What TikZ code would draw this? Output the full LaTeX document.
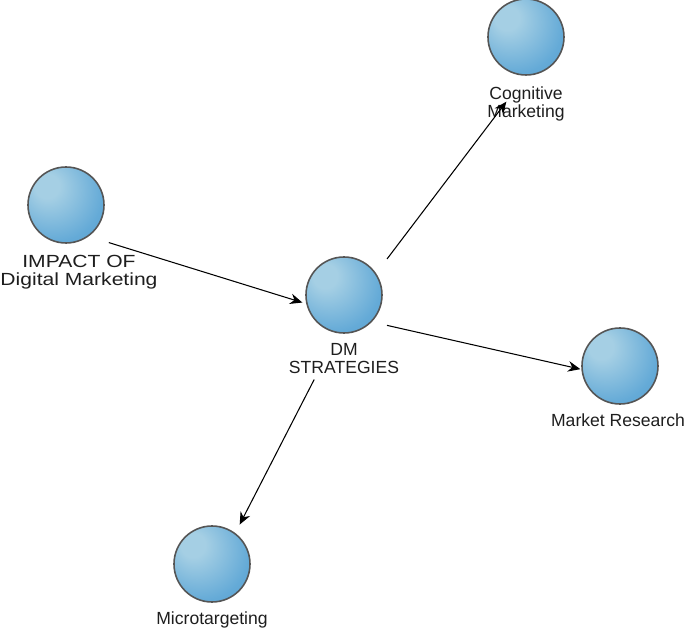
\documentclass[tikz,border=0pt]{standalone}
\usepackage{fontspec}
\setmainfont{Liberation Sans}
\usepackage{xcolor}
\definecolor{sphhi}{RGB}{165,207,228}
\definecolor{sphmid}{RGB}{100,170,215}
\definecolor{sphlo}{RGB}{72,140,192}
\definecolor{sphrim}{RGB}{85,85,85}
\definecolor{lbltext}{RGB}{30,30,30}
\usetikzlibrary{arrows.meta,positioning}
\pgfdeclareradialshading{bluesphere}{\pgfpoint{-14bp}{14bp}}{%
  color(0bp)=(sphhi); color(8bp)=(sphhi); color(32bp)=(sphmid); color(72bp)=(sphlo)}

\begin{document}
\begin{tikzpicture}[
    sphere/.style={circle, draw=sphrim, line width=0.9pt, shading=bluesphere,
                   minimum size=1.52cm, inner sep=0pt},
    lbl/.style={text=lbltext, font=\fontsize{10}{10.5}\selectfont, align=center, inner sep=0pt},
    arr/.style={-{Stealth[length=7pt,width=6pt]}, line width=0.6pt, black}
]
\useasboundingbox (0,0) rectangle (13.7,12.58);

% Spheres
\node[sphere] (cog) at (10.52,11.84) {};
\node[sphere] (imp) at (1.32,8.48) {};
\node[sphere] (dm)  at (6.88,6.68) {};
\node[sphere] (mr)  at (12.40,5.26) {};
\node[sphere] (mic) at (4.24,1.30) {};

% Labels
\node[lbl, below=0.21cm of cog] (cogL) {Cognitive\\Marketing};
\node[lbl, below=0.22cm of imp, xshift=0.26cm, xscale=1.2, transform shape] (impL) {IMPACT OF\\Digital Marketing};
\node[lbl, below=0.18cm of dm] (dmL) {DM\\STRATEGIES};
\node[lbl, below=0.18cm of mr, xshift=-0.04cm] (mrL) {Market Research};
\node[lbl, below=0.18cm of mic] (micL) {Microtargeting};

% Arrows
\draw[arr, shorten <=0.42cm, shorten >=0.08cm] (imp.-54.4) -- (dm.-167.5);
\draw[arr, shorten <=0.36cm, shorten >=0.65cm] (dm.34.9) -- (cog.-90);
\draw[arr, shorten <=0.31cm, shorten >=0.02cm] (dm.-44.5) -- (mr.-175.1);
\draw[arr, shorten <=1.04cm, shorten >=0.19cm] (dm.-99.2) -- (mic.53.5);

\end{tikzpicture}
\end{document}
